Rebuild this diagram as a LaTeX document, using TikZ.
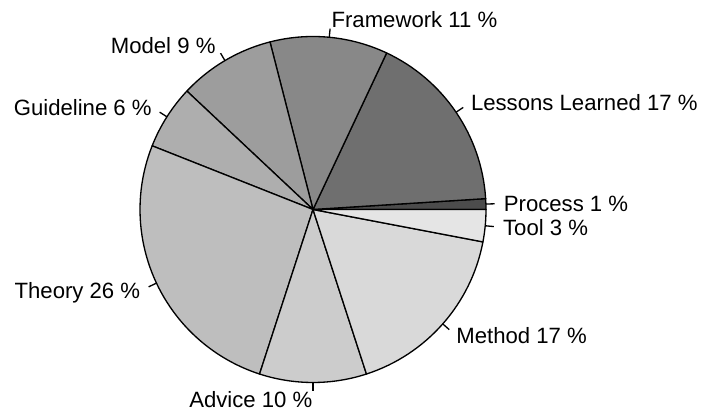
\documentclass[tikz,border=0pt]{standalone}
\usepackage{fontspec}
\setmainfont{Liberation Sans}

\definecolor{processgray}{gray}{0.300}
\definecolor{lessonsgray}{gray}{0.436}
\definecolor{frameworkgray}{gray}{0.534}
\definecolor{modelgray}{gray}{0.614}
\definecolor{guidelinegray}{gray}{0.683}
\definecolor{theorygray}{gray}{0.744}
\definecolor{advicegray}{gray}{0.800}
\definecolor{methodgray}{gray}{0.852}
\definecolor{toolgray}{gray}{0.900}

\tikzset{
    slice/.style={draw=black,line width=0.75pt,line join=round},
    lbl/.style={inner sep=0pt,text height=9pt,text depth=0pt,
        font=\fontsize{12.6}{15}\selectfont}
}

\begin{document}
\begin{tikzpicture}[line width=0.75pt]
    \useasboundingbox (0,0) rectangle (14.02,8.24);
    \begin{scope}[shift={(6.26,4.05)}]
        % slices, counterclockwise from 3 o'clock
        \filldraw[slice,fill=processgray] (0,0) -- (0:3.46) arc[start angle=0,end angle=3.6,radius=3.46] -- cycle;
        \filldraw[slice,fill=lessonsgray] (0,0) -- (3.6:3.46) arc[start angle=3.6,end angle=64.8,radius=3.46] -- cycle;
        \filldraw[slice,fill=frameworkgray] (0,0) -- (64.8:3.46) arc[start angle=64.8,end angle=104.4,radius=3.46] -- cycle;
        \filldraw[slice,fill=modelgray] (0,0) -- (104.4:3.46) arc[start angle=104.4,end angle=136.8,radius=3.46] -- cycle;
        \filldraw[slice,fill=guidelinegray] (0,0) -- (136.8:3.46) arc[start angle=136.8,end angle=158.4,radius=3.46] -- cycle;
        \filldraw[slice,fill=theorygray] (0,0) -- (158.4:3.46) arc[start angle=158.4,end angle=252,radius=3.46] -- cycle;
        \filldraw[slice,fill=advicegray] (0,0) -- (252:3.46) arc[start angle=252,end angle=288,radius=3.46] -- cycle;
        \filldraw[slice,fill=methodgray] (0,0) -- (288:3.46) arc[start angle=288,end angle=349.2,radius=3.46] -- cycle;
        \filldraw[slice,fill=toolgray] (0,0) -- (349.2:3.46) arc[start angle=349.2,end angle=360,radius=3.46] -- cycle;
        % ticks and labels
        \draw (1.8:3.46) -- (1.8:3.633);
        \node (process) at (1.8:3.806) [lbl,anchor=west] {Process 1 \%};
        \draw (34.2:3.46) -- (34.2:3.633);
        \node (lessons) at (34.2:3.806) [lbl,anchor=west] {Lessons Learned 17 \%};
        \draw (84.6:3.46) -- (84.6:3.633);
        \node (framework) at (84.6:3.806) [lbl,anchor=west] {Framework 11 \%};
        \draw (120.6:3.46) -- (120.6:3.633);
        \node (model) at (120.6:3.806) [lbl,anchor=east] {Model 9 \%};
        \draw (147.6:3.46) -- (147.6:3.633);
        \node (guideline) at (147.6:3.806) [lbl,anchor=east] {Guideline 6 \%};
        \draw (205.2:3.46) -- (205.2:3.633);
        \node (theory) at (205.2:3.806) [lbl,anchor=east] {Theory 26 \%};
        \draw (270:3.46) -- (270:3.633);
        \node (advice) at (270:3.806) [lbl,anchor=east] {Advice 10 \%};
        \draw (318.6:3.46) -- (318.6:3.633);
        \node (method) at (318.6:3.806) [lbl,anchor=west] {Method 17 \%};
        \draw (354.6:3.46) -- (354.6:3.633);
        \node (tool) at (354.6:3.806) [lbl,anchor=west] {Tool 3 \%};
    \end{scope}
\end{tikzpicture}
\end{document}
